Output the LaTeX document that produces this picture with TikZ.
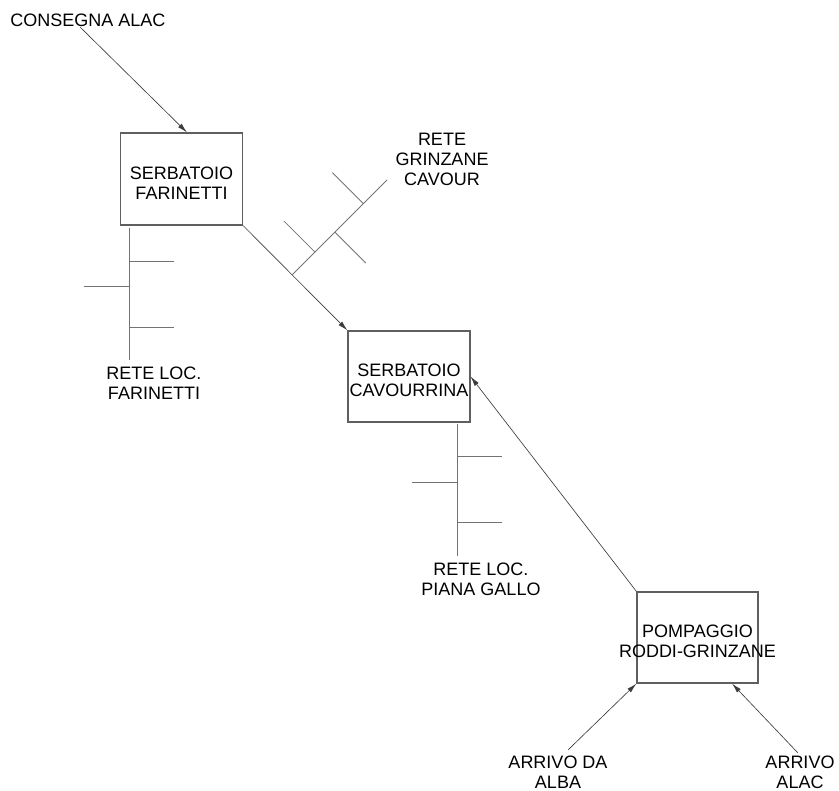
\documentclass[tikz,border=0pt]{standalone}
\usepackage{fontspec}
\setmainfont{Liberation Sans}
\usetikzlibrary{arrows.meta, calc, positioning}
\definecolor{linegray}{RGB}{60,60,60}
\definecolor{boxgray}{RGB}{95,95,95}
\tikzset{
  flow/.style={-{Latex[length=10pt, width=5pt]}, line width=0.65pt, linegray},
  netline/.style={line width=0.8pt, black!55},
  tank/.style={draw=boxgray, line width=1.1pt,
               minimum width=122pt, minimum height=92pt, inner sep=0pt},
  lbl/.style={align=center, inner sep=0pt, text=black},
  tanktext/.style={lbl, yshift=-4pt},
}

\begin{document}
\begin{tikzpicture}[x=1pt, y=-1pt,
    font=\fontsize{18}{20}\selectfont]
  \useasboundingbox (0,0) rectangle (839,791);

  % ---- Tanks ----
  \node[tank, label={[tanktext]center:{SERBATOIO\\FARINETTI}}]
    (farinetti) at (181.5,179) {};
  \node[tank, minimum height=91pt,
        label={[tanktext]center:{SERBATOIO\\CAVOURRINA}}]
    (cavourrina) at (409,376.5) {};
  \node[tank, minimum width=121pt, minimum height=91pt,
        label={[tanktext]center:{POMPAGGIO\\RODDI-GRINZANE}}]
    (pompaggio) at (697.5,637.5) {};

  % ---- Labels ----
  \node[lbl] (consegna) at (88,20) {CONSEGNA ALAC};
  \node[lbl] (grinzane) at (442,159) {RETE\\GRINZANE\\CAVOUR};
  \node[lbl] (locfar) at (154,383) {RETE LOC.\\FARINETTI};
  \node[lbl] (locpiana) at (481,579) {RETE LOC.\\PIANA GALLO};
  \node[lbl] (alba) at (558,772) {ARRIVO DA\\ALBA};
  \node[lbl] (alac) at (800,772) {ARRIVO\\ALAC};

  \coordinate (consout) at (80,27);
  \coordinate (albaout) at (568,750);
  \coordinate (alacout) at (798,753);

  % ---- Main flow ----
  \draw[flow] (consout) -- ($(farinetti.north)+(5.5,0)$);
  \draw[flow] (farinetti.south east) -- (cavourrina.north west);
  \draw[flow] (pompaggio.north west) -- (cavourrina.east);
  \draw[flow] (albaout) -- (pompaggio.south west);
  \draw[flow] (alacout) -- ($(pompaggio.south)+(34.5,0)$);

  % ---- Rete Grinzane Cavour (branch off the main line) ----
  \coordinate (gz0) at ($(farinetti.south east)!0.47!(cavourrina.north west)$);
  \coordinate (gz1) at ($(gz0)+(95,-95)$);
  \draw[netline] (gz0) -- (gz1);
  \draw[netline] ($(gz0)!0.24!(gz1)$) -- ++(-31,-31);
  \draw[netline] ($(gz0)!0.45!(gz1)$) -- ++(31,31);
  \draw[netline] ($(gz0)!0.75!(gz1)$) -- ++(-31,-31);

  % ---- Rete loc. Farinetti ----
  \coordinate (lf0) at ($(farinetti.south west)+(9,2)$);
  \coordinate (lf1) at ($(lf0)+(0,132)$);
  \draw[netline] (lf0) -- (lf1);
  \draw[netline] ($(lf0)+(0,34)$) -- ++(45,0);
  \draw[netline] ($(lf0)+(0,59)$) -- ++(-45,0);
  \draw[netline] ($(lf0)+(0,100)$) -- ++(45,0);

  % ---- Rete loc. Piana Gallo ----
  \coordinate (lp0) at ($(cavourrina.south)+(48,1)$);
  \coordinate (lp1) at ($(lp0)+(0,132)$);
  \draw[netline] (lp0) -- (lp1);
  \draw[netline] ($(lp0)+(0,33)$) -- ++(45,0);
  \draw[netline] ($(lp0)+(0,59)$) -- ++(-45,0);
  \draw[netline] ($(lp0)+(0,99)$) -- ++(45,0);

\end{tikzpicture}
\end{document}
